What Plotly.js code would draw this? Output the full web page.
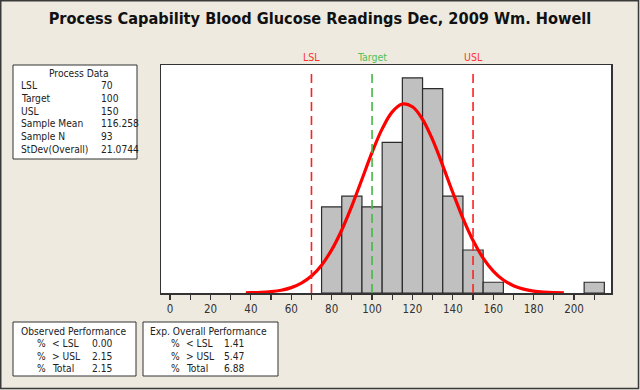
<!DOCTYPE html>
<html>
<head>
<meta charset="utf-8">
<script src="https://cdn.plot.ly/plotly-3.0.1.min.js"></script>
<style>
html,body{margin:0;padding:0;background:#eeeae0;}
#chart{width:640px;height:390px;}
</style>
</head>
<body>
<div id="chart"></div>
<script>
// ---- data ----
const binCenters = [80, 90, 100, 110, 120, 130, 140, 150, 160, 210];
const binCounts  = [8, 9, 8, 14, 20, 19, 9, 4, 1, 1];
const binWidth = 10;

// fitted normal curve
const curveX = [37.5, 40, 45, 50, 55, 60, 65, 70, 75, 80, 85, 90, 95, 100, 105, 110, 115, 120, 125, 130, 135, 140, 145, 150, 155, 160, 165, 170, 175, 180, 185, 190, 195];
const curveY = [0.02, 0.03, 0.06, 0.13, 0.26, 0.50, 0.92, 1.58, 2.59, 4.01, 5.86, 8.10, 10.58, 13.07, 15.26, 16.84, 17.57, 17.32, 16.15, 14.23, 11.85, 9.33, 6.94, 4.88, 3.25, 2.04, 1.21, 0.68, 0.36, 0.18, 0.09, 0.04, 0.02];

const specNames  = ["LSL", "Target", "USL"];
const specValues = [70, 100, 150];

const processLabels = ["LSL", "Target", "USL", "Sample Mean", "Sample N", "StDev(Overall)"];
const processValues = ["70", "100", "150", "116.258", "93", "21.0744"];

const perfLabels = ["< LSL", "> USL", "Total"];
const observedValues = ["0.00", "2.15", "2.15"];
const expectedValues = ["1.41", "5.47", "6.88"];

const xTickVals = [0, 20, 40, 60, 80, 100, 120, 140, 160, 180, 200];

// ---- layout helpers ----
const W = 640, H = 390;
const L = 161, R = 611, T = 65, B = 293;
const px = x => (x - L) / (R - L);
const py = y => (B - y) / (B - T);
const specColor = {LSL: "#ff2020", Target: "#44b844", USL: "#ff2020"};
const labelColor = {LSL: "#ff3030", Target: "#55c055", USL: "#ff3030"};
const boxFont = {family: "DejaVu Sans Condensed, DejaVu Sans", size: 10.2, color: "#222"};

const shapes = [];
const annotations = [];

// spec lines
specNames.forEach((n, i) => {
  shapes.push({type: "line", xref: "x", yref: "paper", x0: specValues[i], x1: specValues[i], y0: 0, y1: 0.975,
    line: {color: specColor[n], width: 1.6, dash: "9px,5px"}, layer: "above"});
  annotations.push({xref: "x", yref: "paper", x: specValues[i], y: 1, yanchor: "bottom", xanchor: "center",
    yshift: 0, showarrow: false, text: n,
    font: {family: "DejaVu Sans Condensed, DejaVu Sans", size: 10.5, color: labelColor[n]}});
});

function box(x0, y0, x1, y1) {
  shapes.push({type: "rect", xref: "paper", yref: "paper", x0: px(x0), x1: px(x1), y0: py(y1), y1: py(y0),
    fillcolor: "#ffffff", line: {color: "#333", width: 1}, layer: "above"});
}
function txt(x, y, s, anchor) {
  annotations.push({xref: "paper", yref: "paper", x: px(x), y: py(y), xanchor: anchor || "left", yanchor: "middle",
    showarrow: false, text: s, font: boxFont});
}

// Process Data box
box(13, 65, 137, 159);
txt(79, 73, "Process Data", "center");
processLabels.forEach((lab, i) => {
  const y = 86 + 12.6 * i;
  txt(19, y, lab);
  txt(99, y, processValues[i]);
});

// Observed Performance
box(13, 322, 136, 376);
txt(73, 331, "Observed Performance", "center");
perfLabels.forEach((lab, i) => {
  const y = 343.5 + 12.5 * i;
  txt(35, y, "%");
  txt(50, y, lab);
  txt(90, y, observedValues[i]);
});

// Exp. Overall Performance
box(143, 322, 278, 376);
txt(208, 331, "Exp. Overall Performance", "center");
perfLabels.forEach((lab, i) => {
  const y = 343.5 + 12.5 * i;
  txt(169, y, "%");
  txt(184, y, lab);
  txt(222, y, expectedValues[i]);
});

// outer border
shapes.push({type: "rect", xref: "paper", yref: "paper", x0: px(0.75), x1: px(638.5), y0: py(388.5), y1: py(0.75),
  line: {color: "#3a3a3a", width: 1.5}, fillcolor: "rgba(0,0,0,0)", layer: "above"});

const traces = [
  {type: "bar", x: binCenters, y: binCounts, width: binCenters.map(() => binWidth),
   marker: {color: "#c0c0c0", line: {color: "#2b2b2b", width: 1.2}}, hoverinfo: "skip"},
  {type: "scatter", mode: "lines", x: curveX, y: curveY, line: {color: "#ff0000", width: 3.2, shape: "spline"}, hoverinfo: "skip"}
];

const layout = {
  width: W, height: H,
  paper_bgcolor: "#eeeae0", plot_bgcolor: "#ffffff",
  margin: {l: L, r: W - R, t: T, b: H - B, pad: 0},
  showlegend: false,
  bargap: 0,
  title: {text: "Process Capability Blood Glucose Readings Dec, 2009 Wm. Howell",
    xref: "container", yref: "container", x: 0.5, xanchor: "center", y: 1 - 18.5 / H, yanchor: "middle",
    font: {family: "DejaVu Sans Condensed, DejaVu Sans", size: 16.2, weight: "bold", color: "#111"}},
  xaxis: {range: [-4.5, 218.3], tickvals: xTickVals, ticks: "outside", ticklen: 5, tickwidth: 1.2, tickcolor: "#333",
    minor: {dtick: 10, tick0: 0, ticks: "outside", ticklen: 5, tickwidth: 1.2, tickcolor: "#333", showgrid: false},
    showgrid: false, zeroline: false, showline: true, mirror: true, linecolor: "#333", linewidth: 1.5,
    tickfont: {family: "DejaVu Sans Condensed, DejaVu Sans", size: 11.5, color: "#333"}},
  yaxis: {range: [0, 21.2], showticklabels: false, ticks: "", showgrid: false, zeroline: false,
    showline: true, mirror: true, linecolor: "#333", linewidth: 1.5},
  shapes: shapes,
  annotations: annotations
};

Plotly.newPlot("chart", traces, layout, {staticPlot: true, displayModeBar: false});
</script>
</body>
</html>
